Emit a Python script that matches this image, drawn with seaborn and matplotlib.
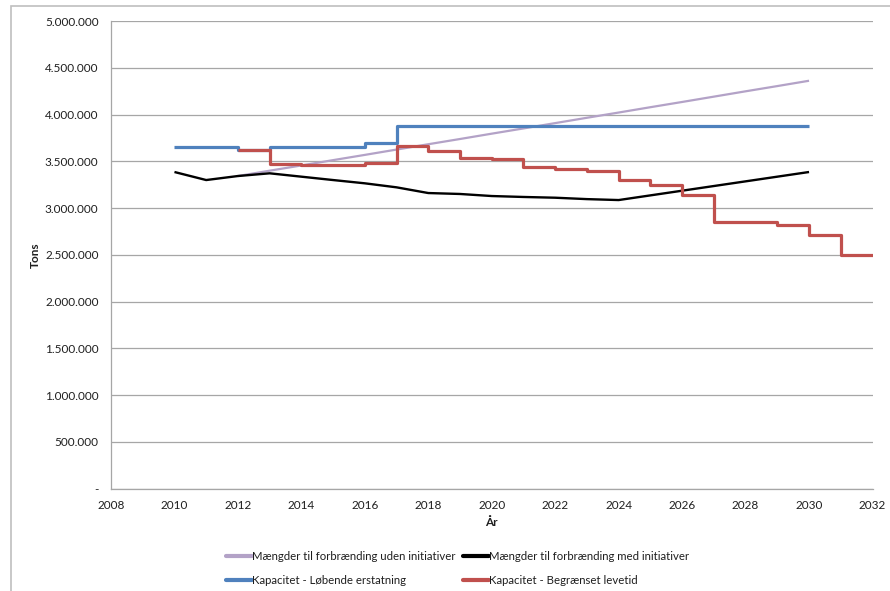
import matplotlib
matplotlib.use("Agg")
import matplotlib.pyplot as plt
from matplotlib.lines import Line2D
from matplotlib.patches import Rectangle
from matplotlib.ticker import FuncFormatter, MultipleLocator
import numpy as np
import pandas as pd
import seaborn as sns

# Mængder til forbrænding uden initiativer
years_uden = list(range(2012, 2031))
uden = [3342000, 3399000, 3455000, 3512000, 3568000, 3625000, 3682000, 3738000,
        3795000, 3851000, 3908000, 3965000, 4021000, 4078000, 4134000, 4191000,
        4248000, 4304000, 4361000]

# Mængder til forbrænding med initiativer
years_med = list(range(2010, 2031))
med = [3385000, 3299000, 3342000, 3371000, 3335000, 3299000, 3264000, 3221000,
       3160000, 3150000, 3128000, 3118000, 3110000, 3095000, 3085000, 3135000,
       3185000, 3235000, 3285000, 3335000, 3385000]

# Kapacitet - Løbende erstatning
years_lob = list(range(2010, 2031))
lob = [3652000, 3652000, 3617000, 3652000, 3652000, 3652000, 3695000, 3875000,
       3875000, 3875000, 3875000, 3875000, 3875000, 3875000, 3875000, 3875000,
       3875000, 3875000, 3875000, 3875000, 3875000]

# Kapacitet - Begrænset levetid
years_beg = list(range(2012, 2033))
beg = [3617000, 3475000, 3460000, 3460000, 3480000, 3662000, 3610000, 3538000,
       3521000, 3435000, 3417000, 3396000, 3296000, 3249000, 3142000, 2853000,
       2853000, 2821000, 2714000, 2494000, 2494000]

labels = ["Mængder til forbrænding uden initiativer",
          "Mængder til forbrænding med initiativer",
          "Kapacitet - Løbende erstatning",
          "Kapacitet - Begrænset levetid"]
colors = ["#B3A2C7", "#000000", "#4F81BD", "#C0504D"]
widths = [1.6, 1.7, 2.3, 2.3]
steps = [False, False, True, True]

frames = []
for lab, yrs, vals in zip(labels, [years_uden, years_med, years_lob, years_beg],
                          [uden, med, lob, beg]):
    frames.append(pd.DataFrame({"År": yrs, "Tons": vals, "Serie": lab}))
df = pd.concat(frames, ignore_index=True)

sns.set_theme(style="white")
plt.rcParams["font.family"] = ["Lato", "DejaVu Sans"]

W, H = 890, 591
fig = plt.figure(figsize=(W / 100, H / 100), dpi=100)
fig.patch.set_facecolor("white")

left, right, top, bottom = 111, 872.5, 21, 488.5
ax = fig.add_axes([left / W, 1 - bottom / H, (right - left) / W, (bottom - top) / H])

for lab, col, lw, st in zip(labels, colors, widths, steps):
    kw = {"drawstyle": "steps-post"} if st else {}
    sns.lineplot(data=df[df["Serie"] == lab], x="År", y="Tons", ax=ax,
                 color=col, linewidth=lw, estimator=None, legend=False,
                 solid_capstyle="butt", **kw)

ax.set_xlim(2008, 2032)
ax.set_ylim(0, 5000000)
ax.xaxis.set_major_locator(MultipleLocator(2))
ax.yaxis.set_major_locator(MultipleLocator(500000))
ax.yaxis.set_major_formatter(FuncFormatter(
    lambda v, p: "-" if v == 0 else f"{v:,.0f}".replace(",", ".")))

grid_col = "#A6A6A6"
ax.grid(axis="y", color=grid_col, linewidth=0.9)
ax.grid(axis="x", visible=False)
ax.set_axisbelow(True)
for s in ["top", "right"]:
    ax.spines[s].set_visible(False)
for s in ["left", "bottom"]:
    ax.spines[s].set_color(grid_col)
    ax.spines[s].set_linewidth(0.9)

ax.tick_params(axis="both", direction="out", length=4, width=0.9, color=grid_col,
               labelsize=8.5, labelcolor="#1F1F1F", pad=4)
ax.tick_params(axis="y", pad=5)

ax.set_xlabel("År", fontsize=8.5, fontweight="bold", color="#1F1F1F")
ax.set_ylabel("Tons", fontsize=8.5, fontweight="bold", color="#1F1F1F")
ax.xaxis.set_label_coords(0.5, -(517 - bottom) / (bottom - top))
ax.yaxis.set_label_coords((41 - left) / (right - left), 0.5)

# legend filled row by row: (uden, med) / (løbende, begrænset)
order = [0, 2, 1, 3]
handles = [Line2D([], [], color=colors[i], linewidth=3) for i in order]
fig.legend(handles, [labels[i] for i in order], loc="upper left", ncol=2,
           frameon=False, bbox_to_anchor=(226 / W, 1 - 551 / H),
           borderaxespad=0, borderpad=0, handlelength=2.3, handletextpad=0.0,
           columnspacing=0.6, labelspacing=1.15, fontsize=8.2,
           labelcolor="#1F1F1F")

fig.patches.append(Rectangle((11 / W, -0.1), 1.2, 1.1 - 6 / H, fill=False,
                             edgecolor="#BFBFBF", linewidth=1.2,
                             transform=fig.transFigure, figure=fig))

fig.savefig("out.png", dpi=100)
